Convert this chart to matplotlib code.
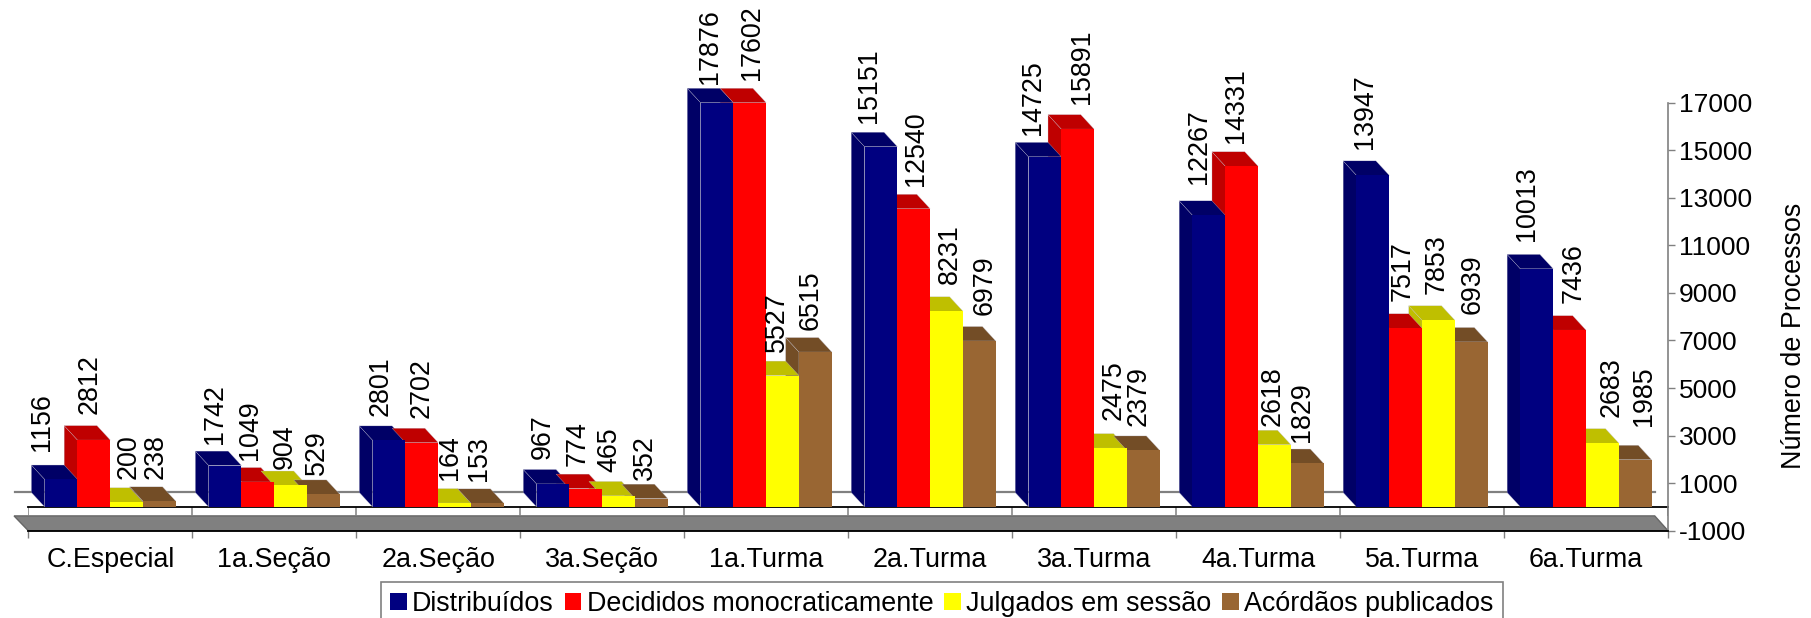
import numpy as np
import matplotlib
matplotlib.use('Agg')
import matplotlib.pyplot as plt
from matplotlib.patches import Polygon, Patch

plt.rcParams['font.family'] = ['Liberation Sans', 'DejaVu Sans']
plt.rcParams['axes.unicode_minus'] = False

categories = ['C.Especial', '1a.Seção', '2a.Seção', '3a.Seção', '1a.Turma',
              '2a.Turma', '3a.Turma', '4a.Turma', '5a.Turma', '6a.Turma']
distribuidos = [1156, 1742, 2801, 967, 17876, 15151, 14725, 12267, 13947, 10013]
decididos = [2812, 1049, 2702, 774, 17602, 12540, 15891, 14331, 7517, 7436]
julgados = [200, 904, 164, 465, 5527, 8231, 2475, 2618, 7853, 2683]
acordaos = [238, 529, 153, 352, 6515, 6979, 2379, 1829, 6939, 1985]
series_names = ['Distribuídos', 'Decididos monocraticamente',
                'Julgados em sessão', 'Acórdãos publicados']
yticks = list(range(-1000, 18000, 2000))

# hand placed value labels, pixels from the top middle of the front face
label_dx = [[-19.4, -3.9, 1.6, -3.8], [-10.1, -7.9, -6.4, -6.2],
            [-8.3, -0.1, -4.6, -8.1], [-10.7, -8.5, -9.6, -6.4],
            [-6.9, 2, -5.8, -4.3], [-11.6, 2, 3.5, 5],
            [-11.6, 4, 3.5, -5], [-9.5, -5.9, -1.7, -5.5],
            [-7.8, -2.9, -1.7, 1.5], [-10, 3.8, 9.4, 9.2]]
label_dy = [[28.2, 26.5, 23.6, 22.7], [22, 21.8, 16.2, 19.1],
            [24.4, 24.7, 23.5, 22.4], [25.4, 22.3, 23.9, 19],
            [19.1, 22.4, 23.6, 22.5], [24.1, 22.5, 27, 25.7],
            [21.5, 24.8, 27.8, 24.1], [31.7, 23.6, 18.4, 21.5],
            [26.7, 26.9, 26.4, 28.4], [27.6, 27.2, 26.2, 33.8]]

front = ['#000080', '#ff0000', '#ffff00', '#996633']
shade = ['#000066', '#bf0000', '#bfbf00', '#734d26']
edge = '#c0c0d0'
gray = '#808080'

W, H = 1811, 618
fig = plt.figure(figsize=(W / 100, H / 100), dpi=100)
ax = fig.add_axes([28.3 / W, 1 - 530.7 / H, (1668 - 28.3) / W, 428 / H])
ax.set_xlim(0, 10)
ax.set_ylim(-1000, 17000)

# depth of the fake 3d, in data units
dx = -0.0811
dy = 606
width = 0.2
top = 17000

# floor
ax.add_patch(Polygon([(0, -1000), (-0.087, -378), (10 - 0.081, -378), (10, -1000)],
                     facecolor=gray, edgecolor='#666666', lw=1, clip_on=False, zorder=1))
ax.plot([-0.08, 9.92], [625, 625], color=gray, lw=1.6, clip_on=False, zorder=1)
ax.plot([0, 10], [0, 0], color='black', lw=1.3, clip_on=False, zorder=2)
ax.vlines(np.arange(11), -378, 0, color=gray, lw=1.1, zorder=1)

series = [distribuidos, decididos, julgados, acordaos]
for j, s in enumerate(series):
    xs = np.arange(len(categories)) + 0.2 + j * width
    vals = np.minimum(s, top)
    for g, v in enumerate(vals):
        x = g + 0.1 + j * width
        # sides sit behind every top, fronts cover both
        ax.add_patch(Polygon([(x, 0), (x + dx, dy), (x + dx, v + dy), (x, v)],
                             facecolor=shade[j], edgecolor=edge, lw=0.2,
                             clip_on=False, zorder=3))
        ax.add_patch(Polygon([(x, v), (x + dx, v + dy), (x + width + dx, v + dy), (x + width, v)],
                             facecolor=shade[j], edgecolor=edge, lw=0.2,
                             clip_on=False, zorder=3.5))
        ax.annotate(str(s[g]), (xs[g], v),
                    xytext=(label_dx[g][j], label_dy[g][j]), textcoords='offset pixels',
                    rotation=90, ha='center', va='bottom', fontsize=19.4,
                    annotation_clip=False, zorder=6)
    ax.bar(xs, vals, width, color=front[j], zorder=4)

for side in ['left', 'top']:
    ax.spines[side].set_visible(False)
ax.spines['right'].set_color(gray)
ax.spines['right'].set_linewidth(1.2)
ax.spines['bottom'].set_color('black')
ax.spines['bottom'].set_linewidth(1.3)

ax.yaxis.tick_right()
ax.set_yticks(yticks)
ax.set_yticklabels([str(t) for t in yticks])
ax.tick_params(axis='y', length=5, width=1, color=gray, labelsize=19, pad=3)
ax.set_xticks(np.arange(11))
ax.set_xticklabels([])
ax.set_xticks(np.arange(10) + 0.5, minor=True)
ax.set_xticklabels(categories, minor=True)
ax.tick_params(axis='x', which='major', length=5, width=1, color=gray)
ax.tick_params(axis='x', which='minor', length=0, labelsize=19.4, pad=12)
ax.yaxis.set_label_position('right')
ax.set_ylabel('Número de Processos', fontsize=19.4)
ax.yaxis.set_label_coords(1.069, 0.455)

handles = [Patch(facecolor=c, edgecolor='none') for c in front]
leg = ax.legend(handles, series_names, ncol=4, fontsize=19.4,
                loc='upper left', bbox_to_anchor=(381 / W, 1 - 582.3 / H),
                bbox_transform=fig.transFigure, borderaxespad=0, borderpad=0.33,
                handlelength=0.62, handleheight=0.62, handletextpad=0.2,
                columnspacing=0.4, fancybox=False, framealpha=1, edgecolor=gray)
leg.get_frame().set_linewidth(1.2)

fig.savefig('out.png', dpi=100)
